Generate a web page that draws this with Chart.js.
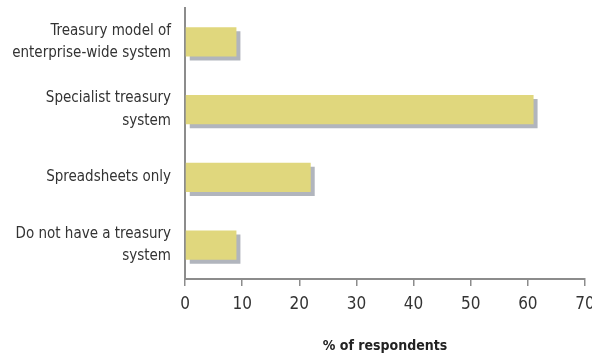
<!DOCTYPE html>
<html>
<head>
<meta charset="utf-8">
<script src="https://cdn.jsdelivr.net/npm/chart.js@4"></script>
<style>
  body { margin: 0; background: #fff; }
  #wrap { width: 592px; height: 355px; }
</style>
</head>
<body>
<div id="wrap"><canvas id="myChart"></canvas></div>
<script>
const categories = [
  ["Treasury model of", "enterprise-wide system"],
  ["Specialist treasury", "system"],
  "Spreadsheets only",
  ["Do not have a treasury", "system"]
];
const respondents = [9, 61, 22, 9];
const axisTitle = "% of respondents";

const fontFamily = "'Liberation Sans Narrow', 'DejaVu Sans Condensed', sans-serif";

// grey drop shadow behind each bar
const barShadow = {
  id: "barShadow",
  beforeDatasetsDraw(chart) {
    const ctx = chart.ctx;
    ctx.save();
    ctx.shadowColor = "#b1b5bd";
    ctx.shadowOffsetX = 4;
    ctx.shadowOffsetY = 4;
    ctx.shadowBlur = 0;
  },
  afterDatasetsDraw(chart) {
    chart.ctx.restore();
  }
};

const data = {
  labels: categories,
  datasets: [
    {
      label: axisTitle,
      data: respondents,
      backgroundColor: "#e0d77d",
      borderWidth: 0,
      categoryPercentage: 1,
      barPercentage: 0.43,
    },
  ],
};

const config = {
  type: "bar",
  data: data,
  plugins: [barShadow],
  options: {
    indexAxis: "y",
    responsive: true,
    maintainAspectRatio: false,
    animation: false,
    layout: { padding: { top: 8, right: 7, bottom: 0, left: 0 } },
    plugins: {
      legend: { display: false },
      tooltip: { enabled: false },
    },
    scales: {
      x: {
        min: 0,
        max: 70,
        ticks: {
          stepSize: 10,
          color: "#333",
          padding: 8,
          font: { family: fontFamily, size: 17 },
        },
        grid: {
          drawOnChartArea: false,
          drawTicks: true,
          tickLength: 7,
          color: "#8c8c8c",
          lineWidth: 1.5,
        },
        border: { display: true, color: "#8c8c8c", width: 2 },
        title: {
          display: true,
          text: axisTitle,
          color: "#222",
          font: { family: fontFamily, size: 14, weight: "bold" },
          padding: { top: 0, bottom: 0 },
        },
        afterFit: (scale) => {
          scale.height = 76;
          scale.paddingLeft = 0;
          scale.paddingRight = 0;
        },
      },
      y: {
        ticks: {
          color: "#333",
          padding: 14,
          font: { family: fontFamily, size: 15, lineHeight: 1.5 },
        },
        grid: { display: false, drawTicks: false },
        border: { display: true, color: "#8c8c8c", width: 2 },
        afterFit: (scale) => {
          scale.width = 185;
          scale.paddingTop = 0;
          scale.paddingBottom = 0;
        },
      },
    },
  },
};

const ctx = document.getElementById("myChart");
const myChart = new Chart(ctx.getContext("2d"), config);
</script>
</body>
</html>
